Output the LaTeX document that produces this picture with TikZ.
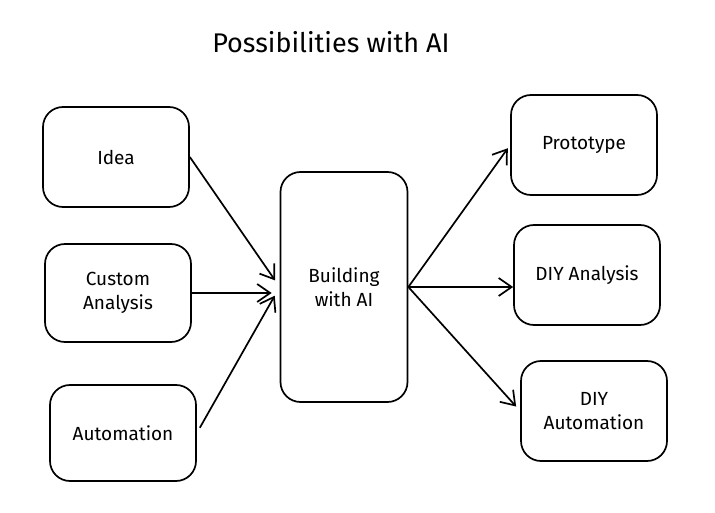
\documentclass[tikz,border=0pt]{standalone}
\usepackage{fontspec}
\setmainfont{Fira Sans}
\usetikzlibrary{arrows.meta}

\begin{document}
\begin{tikzpicture}[
  x=1pt, y=-1pt,
  box/.style={draw, line width=1.7pt, rounded corners=20pt, minimum width=146pt,
              minimum height=100pt, font=\fontsize{19}{24}\selectfont, align=center},
  arr/.style={-{Straight Barb[length=13pt,width=18pt,line width=1.7pt]}, line width=1.7pt},
]
  \useasboundingbox (0,0) rectangle (715,513);

  \node[font=\fontsize{27}{32}\selectfont] (title) at (331,42) {Possibilities with AI};

  % inputs
  \node[box] (idea) at (116,157) {Idea};
  \node[box, minimum height=98pt] (custom) at (118,293) {Custom\\Analysis};
  \node[box, minimum height=96pt] (auto) at (123,433) {Automation};

  % centre
  \node[box, minimum width=127pt, minimum height=230pt] (build) at (344,287) {Building\\with AI};

  % outputs
  \node[box] (proto) at (584,145) {Prototype};
  \node[box] (diya) at (587,275) {DIY Analysis};
  \node[box] (diyauto) at (594,411) {DIY\\Automation};

  \draw[arr, shorten >=8pt] (idea.east) -- (build.west);
  \draw[arr, shorten >=8pt] (custom.east) -- (custom.east -| build.west);
  \draw[arr, shorten >=10pt, shorten <=6pt] (auto.east) -- (build.west);

  \draw[arr, shorten >=4pt] (build.east) -- (proto.west);
  \draw[arr] (build.east) -- (build.east -| diya.west);
  \draw[arr, shorten >=6pt] (build.east) -- (diyauto.west);
\end{tikzpicture}
\end{document}
